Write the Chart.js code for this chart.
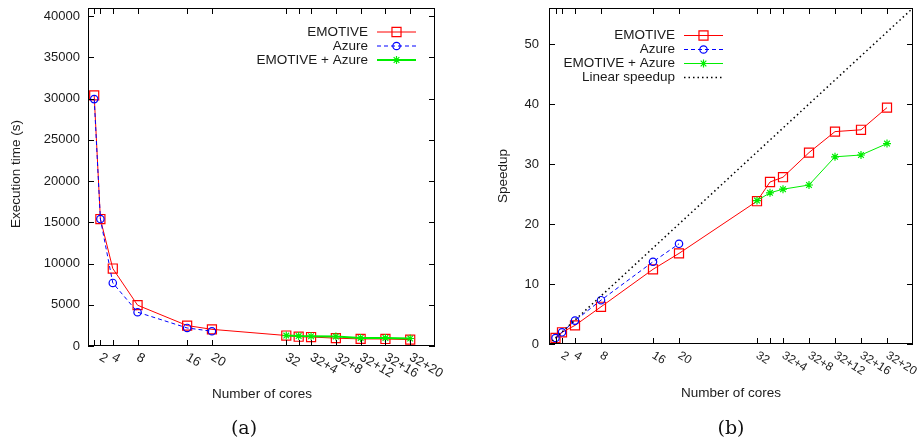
<!DOCTYPE html>
<html lang="en">
<head>
    <meta charset="UTF-8">
    <title>Execution time and speedup</title>
    <script src="https://cdn.jsdelivr.net/npm/chart.js@4.4.1/dist/chart.umd.min.js"></script>
    <style>
        body {
            margin: 0;
            background: #ffffff;
            width: 923px;
            height: 441px;
            position: relative;
            overflow: hidden;
        }
        canvas {
            position: absolute;
            top: 0;
        }
        #chartA { left: 0; }
        #chartB { left: 460px; }
        .caption {
            position: absolute;
            top: 414px;
            width: 60px;
            text-align: center;
            font-family: 'DejaVu Serif', serif;
            font-size: 19px;
            line-height: 26px;
            color: #111;
        }
    </style>
</head>
<body>
    <canvas id="chartA" width="460" height="441"></canvas>
    <canvas id="chartB" width="463" height="441"></canvas>
    <div class="caption" style="left: 214px;">(a)</div>
    <div class="caption" style="left: 701px;">(b)</div>

    <script>
        // x positions (number of cores), 32+n written as 32+n
        const coresX = [1, 2, 4, 8, 16, 20, 32, 34, 36, 40, 44, 48, 52];
        const azureX = [1, 2, 4, 8, 16, 20];
        const hybridX = [32, 34, 36, 40, 44, 48, 52];

        const xTickValues = [1, 2, 4, 8, 16, 20, 32, 34, 36, 40, 44, 48, 52];
        const xTickLabels = ['', '2', '4', '8', '16', '20', '32', '', '32+4', '32+8', '32+12', '32+16', '32+20'];

        // (a) execution time in seconds
        const emotiveTime = [30400, 15400, 9400, 4950, 2480, 2020, 1270, 1125, 1090, 950, 860, 850, 770];
        const azureTime = [29950, 15400, 7650, 4100, 2190, 1790];
        const hybridTime = [1270, 1205, 1180, 1150, 975, 965, 910];
        const timeTicks = [0, 5000, 10000, 15000, 20000, 25000, 30000, 35000, 40000];

        // (b) speedup
        const emotiveSpeedup = [1.0, 1.95, 3.1, 6.2, 12.45, 15.1, 23.8, 27.0, 27.8, 31.9, 35.4, 35.7, 39.4];
        const azureSpeedup = [1.0, 1.95, 3.9, 7.3, 13.7, 16.7];
        const hybridSpeedup = [23.9, 25.2, 25.8, 26.5, 31.2, 31.5, 33.4];
        const linearSpeedup = [0, 56];
        const speedupTicks = [0, 10, 20, 30, 40, 50];

        const sansFont = "'Liberation Sans', Arial, sans-serif";
        const textColor = '#1a1a1a';

        function pts(xs, ys) {
            return xs.map((x, i) => ({ x: x, y: ys[i] }));
        }

        function drawMarker(ctx, style, r, x, y) {
            ctx.beginPath();
            if (style === 'rect') {
                const s = Math.SQRT1_2 * r;
                ctx.rect(x - s, y - s, 2 * s, 2 * s);
            } else if (style === 'circle') {
                ctx.arc(x, y, r, 0, Math.PI * 2);
            } else if (style === 'star') {
                for (let k = 0; k < 4; k++) {
                    const a = k * Math.PI / 4;
                    ctx.moveTo(x - Math.cos(a) * r, y - Math.sin(a) * r);
                    ctx.lineTo(x + Math.cos(a) * r, y + Math.sin(a) * r);
                }
            }
            ctx.stroke();
        }

        // gnuplot style frame: border, inward mirrored ticks, rotated x labels, titles, legend
        function framePlugin(cfg) {
            return {
                id: 'gnuFrame',
                afterDraw(chart) {
                    const ctx = chart.ctx;
                    const area = chart.chartArea;
                    const xs = chart.scales.x;
                    const ys = chart.scales.y;
                    ctx.save();
                    ctx.strokeStyle = '#000';
                    ctx.lineWidth = 1;
                    ctx.strokeRect(area.left + 0.5, area.top + 0.5, area.right - area.left - 1, area.bottom - area.top - 1);

                    ctx.beginPath();
                    xs.ticks.forEach(t => {
                        const px = Math.round(xs.getPixelForValue(t.value)) + 0.5;
                        ctx.moveTo(px, area.bottom);
                        ctx.lineTo(px, area.bottom - 6);
                        ctx.moveTo(px, area.top);
                        ctx.lineTo(px, area.top + 6);
                    });
                    ys.ticks.forEach(t => {
                        const py = Math.round(ys.getPixelForValue(t.value)) + 0.5;
                        ctx.moveTo(area.left, py);
                        ctx.lineTo(area.left + 6, py);
                        ctx.moveTo(area.right, py);
                        ctx.lineTo(area.right - 6, py);
                    });
                    ctx.stroke();

                    ctx.fillStyle = textColor;
                    ctx.font = cfg.xLabelSize + 'px ' + sansFont;
                    ctx.textAlign = 'left';
                    ctx.textBaseline = 'middle';
                    xTickValues.forEach((v, i) => {
                        const px = xs.getPixelForValue(v);
                        ctx.save();
                        ctx.translate(px, area.bottom + 10.5);
                        ctx.rotate(cfg.xLabelAngle * Math.PI / 180);
                        ctx.fillText(xTickLabels[i], 0, 0);
                        ctx.restore();
                    });

                    ctx.font = '13.5px ' + sansFont;
                    ctx.textAlign = 'center';
                    ctx.fillText(cfg.xTitle, cfg.xTitlePos[0], cfg.xTitlePos[1]);
                    ctx.save();
                    ctx.translate(cfg.yTitlePos[0], cfg.yTitlePos[1]);
                    ctx.rotate(-Math.PI / 2);
                    ctx.fillText(cfg.yTitle, 0, 0);
                    ctx.restore();

                    // legend, text right aligned with the sample on its right
                    ctx.textAlign = 'right';
                    chart.data.datasets.forEach((ds, i) => {
                        const y = cfg.legendTop + i * 14;
                        const x0 = cfg.legendRight + 9;
                        const x1 = cfg.legendRight + 48;
                        ctx.fillStyle = textColor;
                        ctx.fillText(ds.label, cfg.legendRight, y);
                        ctx.save();
                        ctx.strokeStyle = ds.borderColor;
                        ctx.lineWidth = ds.borderWidth;
                        ctx.setLineDash(ds.borderDash || []);
                        ctx.beginPath();
                        ctx.moveTo(x0, y);
                        ctx.lineTo(x1, y);
                        ctx.stroke();
                        ctx.restore();
                        if (ds.pointRadius > 0) {
                            ctx.strokeStyle = ds.pointBorderColor;
                            ctx.lineWidth = ds.pointBorderWidth;
                            ctx.setLineDash([]);
                            drawMarker(ctx, ds.pointStyle, ds.pointRadius, (x0 + x1) / 2, y);
                        }
                    });
                    ctx.restore();
                }
            };
        }

        function series(label, data, color, style, radius, width, dash, order) {
            return {
                label: label,
                data: data,
                borderColor: color,
                backgroundColor: 'rgba(0,0,0,0)',
                borderWidth: width,
                borderDash: dash,
                pointStyle: style,
                pointRadius: radius,
                pointHoverRadius: radius,
                pointBorderColor: color,
                pointBackgroundColor: 'rgba(0,0,0,0)',
                pointBorderWidth: 1.2,
                tension: 0,
                fill: false,
                order: order
            };
        }

        function makeChart(id, datasets, yMax, yTicks, layout, cfg) {
            const ctx = document.getElementById(id).getContext('2d');
            return new Chart(ctx, {
                type: 'line',
                data: { datasets: datasets },
                options: {
                    responsive: false,
                    animation: false,
                    layout: { padding: layout.padding },
                    plugins: {
                        legend: { display: false },
                        tooltip: { enabled: false }
                    },
                    scales: {
                        x: {
                            type: 'linear',
                            min: 0,
                            max: 56,
                            afterBuildTicks: s => { s.ticks = xTickValues.map(v => ({ value: v })); },
                            afterFit: s => {
                                s.height = layout.xHeight;
                                s.paddingLeft = 0;
                                s.paddingRight = 0;
                            },
                            ticks: { display: false },
                            grid: { display: false, drawTicks: false },
                            border: { display: false }
                        },
                        y: {
                            type: 'linear',
                            min: 0,
                            max: yMax,
                            afterBuildTicks: s => { s.ticks = yTicks.map(v => ({ value: v })); },
                            afterFit: s => {
                                s.width = layout.yWidth;
                                s.paddingTop = 0;
                                s.paddingBottom = 0;
                            },
                            ticks: {
                                padding: layout.yPad,
                                color: textColor,
                                font: { family: sansFont, size: 13 },
                                callback: v => String(v)
                            },
                            grid: { display: false, drawTicks: false },
                            border: { display: false }
                        }
                    }
                },
                plugins: [framePlugin(cfg)]
            });
        }

        makeChart('chartA', [
            series('EMOTIVE', pts(coresX, emotiveTime), '#ff0000', 'rect', 6.4, 1, [], 3),
            series('Azure', pts(azureX, azureTime), '#0000ff', 'circle', 3.7, 1, [4, 3], 2),
            series('EMOTIVE + Azure', pts(hybridX, hybridTime), '#00ee00', 'star', 4, 2, [], 1)
        ], 41000, timeTicks,
        { padding: { left: 0, right: 25, top: 8, bottom: 0 }, xHeight: 95, yWidth: 88, yPad: 8 },
        {
            xLabelSize: 13, xLabelAngle: 30,
            xTitle: 'Number of cores', xTitlePos: [262, 394],
            yTitle: 'Execution time (s)', yTitlePos: [16, 174],
            legendRight: 368, legendTop: 32
        });

        makeChart('chartB', [
            series('EMOTIVE', pts(coresX, emotiveSpeedup), '#ff0000', 'rect', 6.4, 1, [], 4),
            series('Azure', pts(azureX, azureSpeedup), '#0000ff', 'circle', 3.7, 1, [4, 3], 3),
            series('EMOTIVE + Azure', pts(hybridX, hybridSpeedup), '#00ee00', 'star', 4, 1, [], 2),
            series('Linear speedup', pts(linearSpeedup, linearSpeedup), '#000000', 'circle', 0, 1.5, [1.5, 3], 1)
        ], 56, speedupTicks,
        { padding: { left: 0, right: 10, top: 8, bottom: 0 }, xHeight: 97, yWidth: 89, yPad: 10 },
        {
            xLabelSize: 12, xLabelAngle: 32,
            xTitle: 'Number of cores', xTitlePos: [271, 393],
            yTitle: 'Speedup', yTitlePos: [43, 176],
            legendRight: 215, legendTop: 35.5
        });
    </script>
</body>
</html>
